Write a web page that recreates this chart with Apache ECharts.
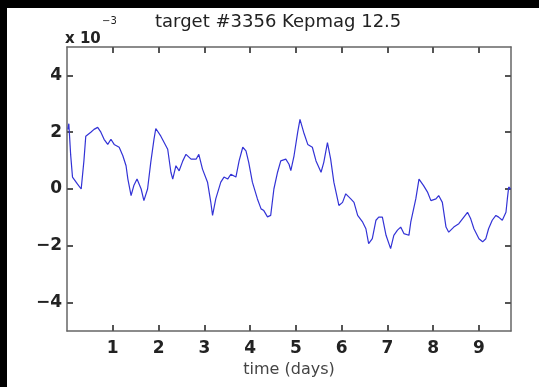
<!DOCTYPE html>
<html>
<head>
<meta charset="utf-8">
<script src="https://cdn.jsdelivr.net/npm/echarts@6/dist/echarts.min.js"></script>
<style>
html,body{margin:0;padding:0;background:#000;width:539px;height:387px;overflow:hidden;}
#chart{position:absolute;left:7px;top:8px;width:532px;height:379px;background:#fff;}
</style>
</head>
<body>
<div id="chart"></div>
<script>
// time in days
const times = [0.02,0.04,0.08,0.12,0.23,0.31,0.37,0.41,0.52,0.59,0.67,0.74,0.81,0.89,0.96,1.03,1.14,1.22,1.29,1.33,1.40,1.46,1.53,1.62,1.68,1.76,1.83,1.90,1.94,2.05,2.20,2.27,2.31,2.38,2.45,2.53,2.60,2.71,2.82,2.88,2.96,3.07,3.14,3.18,3.25,3.36,3.43,3.51,3.58,3.69,3.76,3.84,3.91,3.97,4.05,4.16,4.24,4.30,4.38,4.45,4.52,4.60,4.67,4.78,4.85,4.89,4.96,5.04,5.09,5.17,5.26,5.36,5.44,5.55,5.61,5.69,5.76,5.83,5.94,6.02,6.09,6.20,6.27,6.35,6.46,6.53,6.59,6.67,6.75,6.81,6.89,6.97,7.07,7.14,7.22,7.29,7.36,7.47,7.51,7.62,7.69,7.79,7.88,7.95,8.06,8.12,8.20,8.28,8.34,8.45,8.56,8.67,8.75,8.82,8.89,9.00,9.08,9.15,9.21,9.29,9.37,9.43,9.51,9.59,9.62,9.65,9.69];
// flux values (x 10^-3)
const flux = [2.1,2.3,1.2,0.42,0.17,0.0,1.0,1.86,2.0,2.1,2.17,2.0,1.75,1.57,1.75,1.57,1.47,1.17,0.82,0.35,-0.23,0.12,0.35,0.0,-0.41,0.0,0.94,1.75,2.13,1.86,1.4,0.59,0.35,0.82,0.64,0.99,1.22,1.05,1.05,1.22,0.7,0.24,-0.45,-0.93,-0.35,0.24,0.42,0.35,0.52,0.42,0.99,1.47,1.34,0.94,0.24,-0.35,-0.7,-0.76,-0.98,-0.93,0.0,0.59,0.99,1.05,0.87,0.65,1.17,2.0,2.45,2.0,1.57,1.47,0.99,0.59,0.94,1.63,1.05,0.24,-0.58,-0.47,-0.17,-0.35,-0.47,-0.93,-1.17,-1.4,-1.92,-1.75,-1.1,-0.99,-0.99,-1.63,-2.1,-1.63,-1.45,-1.34,-1.57,-1.63,-1.17,-0.35,0.35,0.12,-0.12,-0.41,-0.35,-0.23,-0.47,-1.34,-1.52,-1.34,-1.22,-0.99,-0.82,-1.05,-1.4,-1.75,-1.86,-1.75,-1.4,-1.1,-0.93,-0.99,-1.1,-0.82,-0.35,0.07,0.0];
const xTicks = [1,2,3,4,5,6,7,8,9];
const yTicks = [-4,-2,0,2,4];
const titleText = 'target #3356 Kepmag 12.5';
const xName = 'time (days)';

const chart = echarts.init(document.getElementById('chart'));
const fmtY = v => (v < 0 ? '\u2212' + Math.abs(v) : String(v));
const lineCol = '#666';
const labelFont = {fontFamily:'DejaVu Sans', fontWeight:'bold', fontSize:17, color:'#222'};
function tick(vals){ return {show:true, inside:true, length:6, customValues:vals, lineStyle:{color:'#555', width:2}}; }
function axLine(){ return {show:true, onZero:false, lineStyle:{color:lineCol, width:1.5}}; }
chart.setOption({
  animation:false,
  backgroundColor:'#fff',
  title:{text:titleText, left:148, top:5, padding:0,
    textStyle:{fontFamily:'DejaVu Sans', fontSize:18, fontWeight:'normal', color:'#222'}},
  graphic:[
    {type:'text', left:58, top:24, style:{text:'x 10', fontFamily:'DejaVu Sans', fontWeight:'bold', fontSize:15, fill:'#222'}},
    {type:'text', left:95, top:8, style:{text:'\u22123', fontFamily:'DejaVu Sans', fontSize:10, fill:'#222'}}
  ],
  grid:{left:60, top:39, right:28, bottom:56, containLabel:false},
  xAxis:[
    {type:'value', min:0, max:9.7, position:'bottom',
     axisLine:axLine(),
     axisTick:tick(xTicks),
     axisLabel:Object.assign({customValues:xTicks, margin:9}, labelFont),
     splitLine:{show:false},
     name:xName, nameLocation:'middle', nameGap:30,
     nameTextStyle:{fontFamily:'DejaVu Sans', fontSize:16, color:'#444'}},
    {type:'value', min:0, max:9.7, position:'top',
     axisLine:axLine(),
     axisTick:tick(xTicks),
     axisLabel:{show:false}, splitLine:{show:false}}
  ],
  yAxis:[
    {type:'value', min:-5, max:5, position:'left',
     axisLine:axLine(),
     axisTick:tick(yTicks),
     axisLabel:Object.assign({customValues:yTicks, margin:5, formatter:fmtY}, labelFont),
     splitLine:{show:false}},
    {type:'value', min:-5, max:5, position:'right',
     axisLine:axLine(),
     axisTick:tick(yTicks),
     axisLabel:{show:false}, splitLine:{show:false}}
  ],
  series:[{
    type:'line', xAxisIndex:0, yAxisIndex:0,
    data: times.map((t,i)=>[t, flux[i]]),
    showSymbol:false, symbol:'none',
    lineStyle:{color:'#3333d6', width:1.2}
  }]
});
</script>
</body>
</html>
